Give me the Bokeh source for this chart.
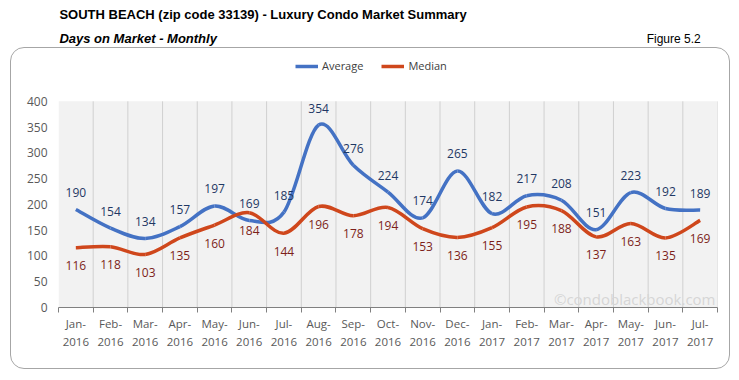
from bokeh.plotting import figure
from bokeh.layouts import column
from bokeh.core.properties import value
from bokeh.models import (ColumnDataSource, Range1d, FixedTicker, LinearAxis, LabelSet,
                          Label, Legend, LegendItem)
from bokeh.embed import file_html
from bokeh.resources import INLINE

months = ["Jan-\n2016", "Feb-\n2016", "Mar-\n2016", "Apr-\n2016", "May-\n2016", "Jun-\n2016",
          "Jul-\n2016", "Aug-\n2016", "Sep-\n2016", "Oct-\n2016", "Nov-\n2016", "Dec-\n2016",
          "Jan-\n2017", "Feb-\n2017", "Mar-\n2017", "Apr-\n2017", "May-\n2017", "Jun-\n2017",
          "Jul-\n2017"]
average = [190, 154, 134, 157, 197, 169, 185, 354, 276, 224, 174, 265, 182, 217, 208, 151, 223, 192, 189]
median = [116, 118, 103, 135, 160, 184, 144, 196, 178, 194, 153, 136, 155, 195, 188, 137, 163, 135, 169]
y_ticks = [0, 50, 100, 150, 200, 250, 300, 350, 400]

AVG_LINE = "#4472c4"
MED_LINE = "#cf471c"
AVG_TXT = "#1f3864"
MED_TXT = "#7d1f1a"
FONT = "Open Sans"

# ---------- header (titles) ----------
h = figure(width=739, height=47, output_backend="svg", toolbar_location=None,
           x_range=Range1d(0, 739), y_range=Range1d(47, 0),
           min_border=0, min_border_left=0, min_border_right=0,
           min_border_top=0, min_border_bottom=0)
h.xaxis.visible = False
h.yaxis.visible = False
h.grid.visible = False
h.outline_line_color = None
h.background_fill_color = "white"
h.border_fill_color = "white"
h.add_layout(Label(x=13, y=14, text="SOUTH BEACH (zip code 33139) - Luxury Condo Market Summary",
                   text_font="Liberation Sans", text_font_size="13px", text_font_style="bold",
                   text_baseline="middle", text_color="#000000"))
h.add_layout(Label(x=13, y=38, text="Days on Market - Monthly",
                   text_font="Liberation Sans", text_font_size="13px", text_font_style="bold italic",
                   text_baseline="middle", text_color="#000000"))
h.add_layout(Label(x=712, y=38, text="Figure 5.2", text_align="right",
                   text_font="Liberation Sans", text_font_size="12px",
                   text_baseline="middle", text_color="#000000"))

# ---------- main chart ----------
n = len(months)
xs = [i + 0.5 for i in range(n)]
bounds = list(range(n + 1))
Y_TOP = 400
Y_END = 487

p = figure(width=720, height=322, output_backend="svg", toolbar_location=None,
           x_range=Range1d(0, n), y_range=Range1d(0, Y_END),
           min_border_left=47, min_border_right=14, min_border_top=8, min_border_bottom=63)
p.margin = (0, 0, 0, 10)
p.styles = {"border": "1px solid #a6a6a6", "border-radius": "14px"}
p.background_fill_color = "white"
p.border_fill_alpha = 0
p.outline_line_color = None
p.xaxis.visible = False
p.yaxis.visible = False
p.grid.visible = False

# grey plotting area and vertical separators between months
p.quad(left=[bounds[0]], right=[bounds[-1]], bottom=[y_ticks[0]], top=[Y_TOP],
       fill_color="#f2f2f2", fill_alpha=1, line_color=None)
p.segment(x0=bounds[1:], y0=[y_ticks[0]] * n, x1=bounds[1:], y1=[Y_TOP] * n,
          line_color="#d0d0d0", line_width=1)

xaxis = LinearAxis(ticker=FixedTicker(ticks=xs, minor_ticks=bounds),
                   major_label_overrides={x: m for x, m in zip(xs, months)})
xaxis.axis_line_color = "#808080"
xaxis.major_tick_line_color = None
xaxis.major_tick_out = 0
xaxis.major_tick_in = 0
xaxis.minor_tick_line_color = "#808080"
xaxis.minor_tick_out = 5
xaxis.minor_tick_in = 0
xaxis.major_label_text_font = FONT
xaxis.major_label_text_font_size = "11.5px"
xaxis.major_label_text_color = "#595959"
xaxis.major_label_standoff = 3
p.add_layout(xaxis, "below")

yaxis = LinearAxis(ticker=FixedTicker(ticks=y_ticks))
yaxis.axis_line_color = None
yaxis.major_tick_line_color = None
yaxis.major_tick_out = 0
yaxis.major_tick_in = 0
yaxis.minor_tick_line_color = None
yaxis.minor_tick_out = 0
yaxis.major_label_text_font = FONT
yaxis.major_label_text_font_size = "12px"
yaxis.major_label_text_color = "#595959"
yaxis.major_label_standoff = 11
p.add_layout(yaxis, "left")


def smooth(xv, yv):
    m = len(xv)
    d = dict(x0=[], y0=[], x1=[], y1=[], cx0=[], cy0=[], cx1=[], cy1=[])
    for i in range(m - 1):
        a = max(i - 1, 0)
        b = min(i + 2, m - 1)
        d["x0"].append(xv[i]); d["y0"].append(yv[i])
        d["x1"].append(xv[i + 1]); d["y1"].append(yv[i + 1])
        d["cx0"].append(xv[i] + (xv[i + 1] - xv[a]) / 6)
        d["cy0"].append(yv[i] + (yv[i + 1] - yv[a]) / 6)
        d["cx1"].append(xv[i + 1] - (xv[b] - xv[i]) / 6)
        d["cy1"].append(yv[i + 1] - (yv[b] - yv[i]) / 6)
    return ColumnDataSource(d)


r_avg = p.bezier("x0", "y0", "x1", "y1", "cx0", "cy0", "cx1", "cy1", source=smooth(xs, average),
                 line_color=AVG_LINE, line_width=3.5)
r_med = p.bezier("x0", "y0", "x1", "y1", "cx0", "cy0", "cx1", "cy1", source=smooth(xs, median),
                 line_color=MED_LINE, line_width=3.5)

src = ColumnDataSource(dict(x=xs, avg=average, med=median,
                            avg_t=[str(v) for v in average], med_t=[str(v) for v in median]))
p.add_layout(LabelSet(x="x", y="avg", text="avg_t", source=src, y_offset=17,
                      text_align="center", text_baseline="middle", text_font=value(FONT),
                      text_font_size=value("12px"), text_color=AVG_TXT))
p.add_layout(LabelSet(x="x", y="med", text="med_t", source=src, y_offset=-18,
                      text_align="center", text_baseline="middle", text_font=value(FONT),
                      text_font_size=value("12px"), text_color=MED_TXT))

p.add_layout(Label(x=657, y=9, x_units="screen", y_units="screen",
                   text="\u00a9condoblackbook.com", text_align="right",
                   text_font=FONT, text_font_size="15px",
                   text_baseline="middle", text_color="#d6d6d6"))

# legend (in the white band above the plotting area)
legend = Legend(items=[LegendItem(label="Average", renderers=[r_avg], index=0),
                       LegendItem(label="Median", renderers=[r_med], index=0)],
                orientation="horizontal", location=(237, 234),
                padding=0, margin=0, spacing=18, label_standoff=4,
                glyph_width=23, glyph_height=14, label_height=14,
                label_text_font=FONT, label_text_font_size="11px", label_text_color="#404040",
                border_line_color=None, background_fill_alpha=0)
p.add_layout(legend, "center")

layout = column(h, p, spacing=0)
open("out.html", "w").write(file_html(layout, INLINE))
